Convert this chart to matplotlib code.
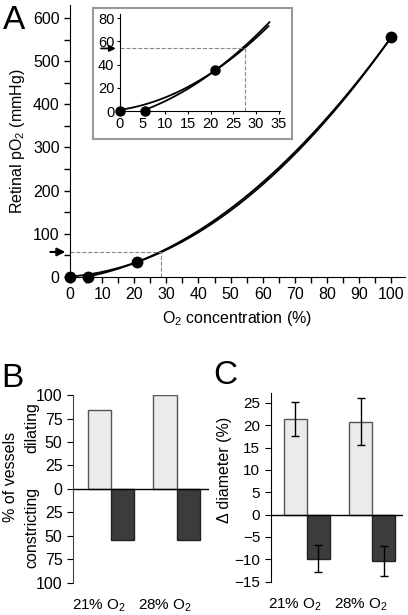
import matplotlib
matplotlib.use("Agg")
import matplotlib.pyplot as plt
import numpy as np

plt.rcParams['font.family'] = ['Liberation Sans', 'DejaVu Sans']
plt.rcParams['mathtext.fontset'] = 'custom'
plt.rcParams['mathtext.rm'] = 'Liberation Sans'
plt.rcParams['mathtext.it'] = 'Liberation Sans:italic'
plt.rcParams['font.size'] = 11.5

# panel A data: O2 concentration (%) vs retinal pO2 (mmHg)
o2_conc = [0, 5.5, 21, 100]
po2 = [1, 1, 35, 555]
arrow_po2 = 58      # pO2 marked by arrow
arrow_conc = 28.2   # matching O2 concentration

# panel B data: % of vessels
groups = ['21% O$_2$', '28% O$_2$']
pct_dilating = [84, 100]
pct_constricting = [54, 54]

# panel C data: change in diameter (%)
diam_dilate = [21.3, 20.8]
diam_dilate_err = [3.8, 5.3]
diam_constrict = [-9.9, -10.4]
diam_constrict_err = [3.0, 3.3]

light = '#ebebeb'
dark = '#3c3c3c'

fig = plt.figure(figsize=(4.08, 6.15), dpi=100)

# fitted curves (quadratic through the points, one from 0 and one from 5.5)
c1 = np.polyfit([o2_conc[0], o2_conc[2], o2_conc[3]], [po2[0], po2[2], po2[3]], 2)
c2 = np.polyfit(o2_conc[1:], po2[1:], 2)
xs1 = np.linspace(0, 100, 300)
xs2 = np.linspace(5.5, 100, 300)


def draw_curves(ax, xmax):
    m1 = xs1 <= xmax
    m2 = xs2 <= xmax
    ax.plot(xs1[m1], np.polyval(c1, xs1[m1]), color='black', lw=1.3)
    ax.plot(xs2[m2], np.polyval(c2, xs2[m2]), color='black', lw=1.3)


# ---- panel A ----
axA = fig.add_axes([0.1716, 0.5496, 0.821, 0.4423])
draw_curves(axA, 100)
axA.plot(o2_conc, po2, 'o', color='black', ms=7.5, clip_on=False, zorder=5)
axA.plot([0, arrow_conc], [arrow_po2, arrow_po2], ls='--', color='#888888', lw=0.8)
axA.plot([arrow_conc, arrow_conc], [0, arrow_po2], ls='--', color='#888888', lw=0.8)
axA.annotate('', xy=(-0.6, arrow_po2), xytext=(-7, arrow_po2),
             arrowprops=dict(arrowstyle='-|>', color='black', lw=1.5, mutation_scale=12),
             annotation_clip=False)
axA.set_xlim(0, 104.3)
axA.set_ylim(0, 630)
axA.set_xticks(np.arange(0, 101, 10))
axA.set_xticks(np.arange(5, 101, 10), minor=True)
axA.set_yticks(np.arange(0, 601, 100))
axA.set_yticks(np.arange(50, 601, 100), minor=True)
axA.tick_params(which='both', direction='out', length=4, width=1)
axA.spines['top'].set_visible(False)
axA.spines['right'].set_visible(False)
axA.set_xlabel('O$_2$ concentration (%)', labelpad=5)
axA.set_ylabel('Retinal pO$_2$ (mmHg)', labelpad=4)
fig.text(0.035, 0.967, 'A', fontsize=24, ha='center', va='center')

# inset box
box = fig.add_axes([0.228, 0.774, 0.488, 0.213])
box.set_xticks([])
box.set_yticks([])
for s in box.spines.values():
    s.set_color('#999999')
    s.set_linewidth(1.5)

axI = fig.add_axes([0.294, 0.8195, 0.392, 0.1577])
axI.patch.set_alpha(0)
draw_curves(axI, 33)
axI.plot(o2_conc[:3], [0, 0, po2[2]], 'o', color='black', ms=6.5, clip_on=False, zorder=5)
axI.plot([0, arrow_conc - 0.5], [54, 54], ls='--', color='#888888', lw=0.8)
axI.plot([arrow_conc - 0.5, arrow_conc - 0.5], [0, 54], ls='--', color='#888888', lw=0.8)
axI.annotate('', xy=(-0.3, 54), xytext=(-4.8, 54),
             arrowprops=dict(arrowstyle='-|>', color='black', lw=1.3, mutation_scale=9),
             annotation_clip=False)
axI.set_xlim(0, 35.3)
axI.set_ylim(0, 83.7)
axI.set_xticks(np.arange(0, 36, 5))
axI.set_yticks(np.arange(0, 81, 20))
axI.tick_params(direction='out', length=2.5, labelsize=10.5, pad=1.5)
axI.spines['top'].set_visible(False)
axI.spines['right'].set_visible(False)

# ---- panel B ----
w = 0.35
xpos = np.arange(len(groups))
axB = fig.add_axes([0.179, 0.0525, 0.333, 0.305])
axB.bar(xpos - w / 2, pct_dilating, w, color=light, edgecolor='#555555', lw=1)
axB.bar(xpos + w / 2, [-v for v in pct_constricting], w, color=dark, edgecolor='#222222', lw=1)
axB.axhline(0, color='black', lw=1)
axB.set_xlim(-0.57, 1.49)
axB.set_ylim(-100, 100)
yt = np.arange(-100, 101, 25)
axB.set_yticks(yt)
axB.set_yticklabels([str(abs(v)) for v in yt])
axB.set_xticks(xpos - w / 2)
axB.set_xticklabels(groups)
axB.tick_params(axis='x', length=0, pad=11, labelsize=11)
axB.tick_params(axis='y', direction='out', length=4)
for s in ['top', 'right', 'bottom']:
    axB.spines[s].set_visible(False)
axB.spines['left'].set_color('#444444')
fig.text(0.025, 0.225, '% of vessels', rotation=90, ha='center', va='center')
fig.text(0.078, 0.305, 'dilating', rotation=90, ha='center', va='center')
fig.text(0.078, 0.142, 'constricting', rotation=90, ha='center', va='center')
fig.text(0.03, 0.385, 'B', fontsize=24, ha='center', va='center')

# ---- panel C ----
axC = fig.add_axes([0.6635, 0.0542, 0.325, 0.3068])
axC.bar(xpos - w / 2, diam_dilate, w, yerr=diam_dilate_err, color=light,
        edgecolor='#555555', lw=1, capsize=3, error_kw=dict(lw=1, capthick=1))
axC.bar(xpos + w / 2, diam_constrict, w, yerr=diam_constrict_err, color=dark,
        edgecolor='#222222', lw=1, capsize=3, error_kw=dict(lw=1, capthick=1))
axC.axhline(0, color='black', lw=1)
axC.set_xlim(-0.55, 1.47)
axC.set_ylim(-15, 27.2)
axC.set_yticks(np.arange(-15, 26, 5))
axC.set_xticks(xpos - w / 2)
axC.set_xticklabels(groups)
axC.tick_params(axis='x', length=0, pad=11, labelsize=11)
axC.tick_params(axis='y', direction='out', length=4, labelsize=11)
for s in ['top', 'right', 'bottom']:
    axC.spines[s].set_visible(False)
axC.set_ylabel('Δ diameter (%)')
axC.yaxis.set_label_coords(-0.29, 0.59)
fig.text(0.552, 0.39, 'C', fontsize=24, ha='center', va='center')

fig.savefig('out.png', dpi=100)
